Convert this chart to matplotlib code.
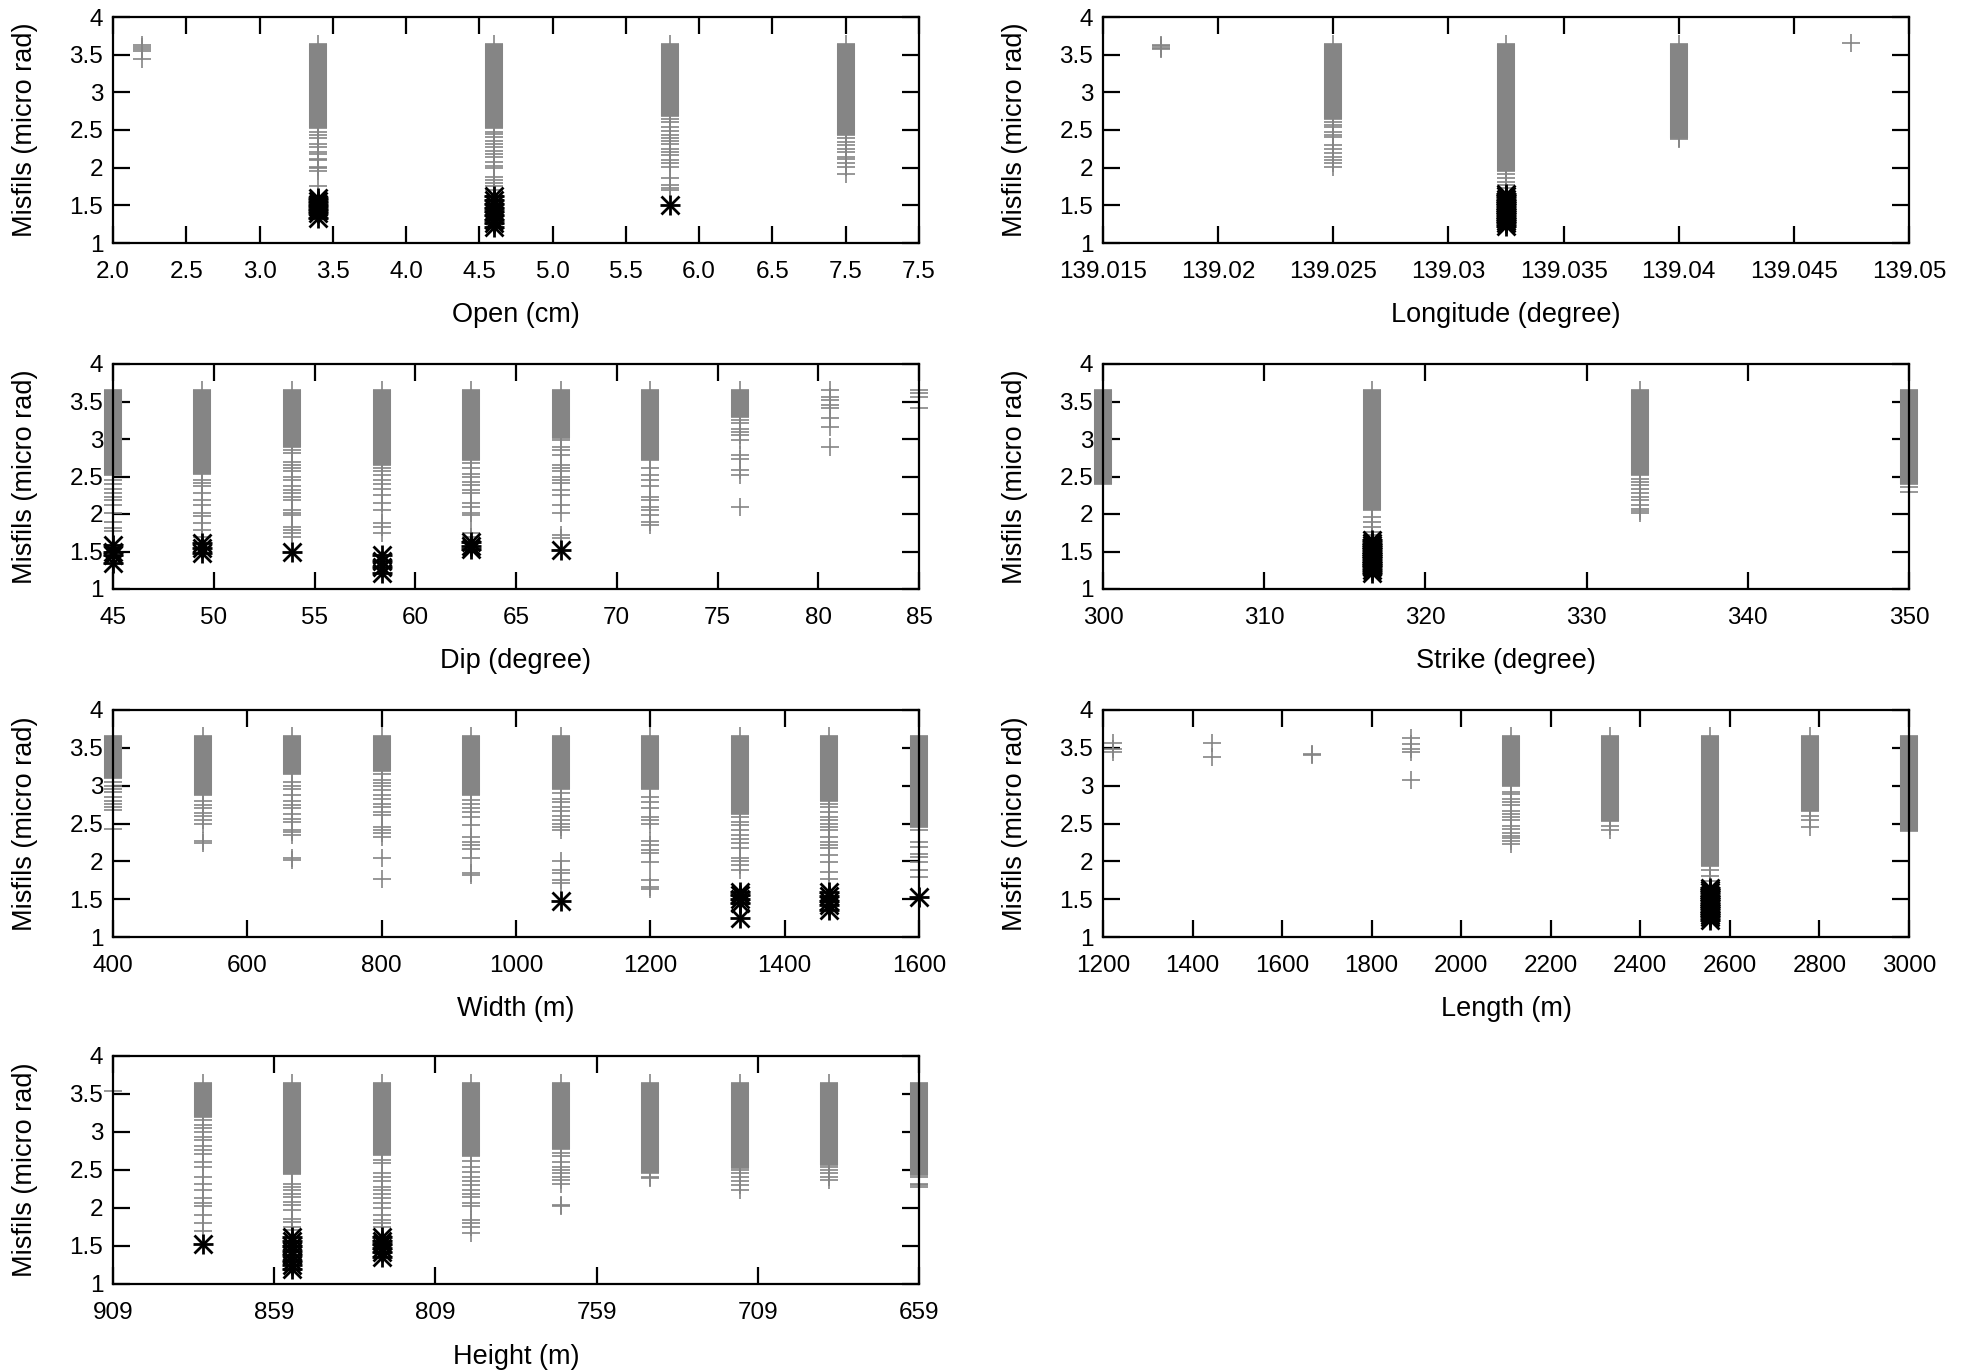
import matplotlib
matplotlib.use("Agg")
import matplotlib.pyplot as plt

plt.rcParams["font.family"] = ["Liberation Sans", "DejaVu Sans"]

GRAY = "#858585"

# ---------------------------------------------------------------
# data: per column x, dense band (lo, hi),
# separate misfit values below the band, and best solutions (black)
# ---------------------------------------------------------------
MISFIT_TICKS = [1, 1.5, 2, 2.5, 3, 3.5, 4]
MISFIT_LABELS = ["1", "1.5", "2", "2.5", "3", "3.5", "4"]

# Open (cm)
open_x = [2.2, 3.4, 4.6, 5.8, 7.0]
open_band = [None, (2.52, 3.64), (2.52, 3.64), (2.69, 3.64), (2.43, 3.64)]
open_sparse = [
    [3.63, 3.60, 3.57, 3.55, 3.44],
    [2.47, 2.44, 2.39, 2.31, 2.27, 2.21, 2.18, 2.12, 2.10, 2.01, 1.99, 1.96, 1.75],
    [2.47, 2.45, 2.41, 2.36, 2.31, 2.28, 2.22, 2.18, 2.14, 2.07, 2.02, 1.99, 1.88, 1.84, 1.79, 1.75, 1.70],
    [2.65, 2.61, 2.54, 2.49, 2.44, 2.39, 2.35, 2.31, 2.25, 2.21, 2.17, 2.10, 2.06, 2.01, 1.86, 1.77, 1.73, 1.70],
    [2.39, 2.34, 2.30, 2.25, 2.21, 2.14, 2.12, 2.06, 2.01, 1.91],
]
open_best = [
    [],
    [1.60, 1.56, 1.52, 1.48, 1.44, 1.40, 1.33],
    [1.62, 1.57, 1.52, 1.47, 1.42, 1.37, 1.31, 1.26, 1.21],
    [1.51],
    [],
]
open_ticks = [2.0, 2.5, 3.0, 3.5, 4.0, 4.5, 5.0, 5.5, 6.0, 6.5, 7.0, 7.5]
open_ticklabels = ["2.0", "2.5", "3.0", "3.5", "4.0", "4.5", "5.0", "5.5", "6.0", "6.5", "7.5", "7.5"]

# Longitude (degree)
lon_x = [139.0175, 139.025, 139.0325, 139.04, 139.0475]
lon_band = [None, (2.65, 3.64), (1.95, 3.64), (2.40, 3.64), None]
lon_sparse = [
    [3.63, 3.61, 3.59, 3.58],
    [2.61, 2.57, 2.54, 2.47, 2.44, 2.41, 2.30, 2.25, 2.19, 2.14, 2.10, 2.06, 2.01],
    [1.92, 1.86, 1.81, 1.77, 1.73, 1.68],
    [2.38],
    [3.65],
]
lon_best = [
    [],
    [],
    [1.65, 1.62, 1.59, 1.56, 1.53, 1.50, 1.47, 1.44, 1.41, 1.38, 1.35, 1.32, 1.29, 1.26, 1.22],
    [],
    [],
]
lon_ticks = [139.015, 139.02, 139.025, 139.03, 139.035, 139.04, 139.045, 139.05]
lon_ticklabels = ["139.015", "139.02", "139.025", "139.03", "139.035", "139.04", "139.045", "139.05"]

# Dip (degree)
dip_x = [45.0, 49.44, 53.89, 58.33, 62.78, 67.22, 71.67, 76.11, 80.56, 85.0]
dip_band = [(2.52, 3.65), (2.54, 3.65), (2.90, 3.65), (2.65, 3.65), (2.72, 3.65),
            (3.01, 3.65), (2.72, 3.65), (3.30, 3.65), None, None]
dip_sparse = [
    [2.46, 2.40, 2.34, 2.28, 2.23, 2.19, 2.12, 2.01, 1.90, 1.81, 1.77],
    [2.46, 2.41, 2.37, 2.28, 2.19, 2.12, 2.02, 1.98, 1.88, 1.79, 1.70],
    [2.85, 2.81, 2.70, 2.66, 2.61, 2.57, 2.50, 2.46, 2.37, 2.32, 2.28, 2.23, 2.19, 2.06, 2.01, 1.99, 1.83, 1.79, 1.75, 1.70],
    [2.61, 2.57, 2.52, 2.46, 2.40, 2.34, 2.26, 2.15, 2.05, 1.88, 1.83, 1.75],
    [2.68, 2.61, 2.54, 2.50, 2.43, 2.39, 2.32, 2.28, 2.15, 2.10, 2.01, 1.99, 1.75, 1.70],
    [2.99, 2.90, 2.85, 2.79, 2.65, 2.61, 2.57, 2.50, 2.46, 2.41, 2.32, 2.26, 2.12, 2.02, 1.72, 1.68],
    [2.61, 2.52, 2.46, 2.37, 2.23, 2.19, 2.10, 2.05, 1.99, 1.90, 1.86],
    [3.25, 3.21, 3.14, 3.10, 3.05, 2.99, 2.79, 2.74, 2.59, 2.52, 2.10],
    [3.65, 3.56, 3.52, 3.45, 3.41, 3.28, 3.16, 2.89],
    [3.65, 3.61, 3.56, 3.41],
]
dip_best = [
    [1.59, 1.50, 1.46, 1.35],
    [1.61, 1.55, 1.48],
    [1.49],
    [1.46, 1.37, 1.30, 1.21],
    [1.63, 1.58, 1.53],
    [1.52],
    [], [], [], [],
]
dip_ticks = [45, 50, 55, 60, 65, 70, 75, 80, 85]

# Strike (degree)
strike_x = [300, 316.67, 333.33, 350]
strike_band = [(2.40, 3.65), (2.05, 3.65), (2.52, 3.65), (2.40, 3.65)]
strike_sparse = [
    [],
    [1.96, 1.89, 1.83, 1.76, 1.72],
    [2.47, 2.43, 2.39, 2.34, 2.28, 2.23, 2.19, 2.12, 2.07, 2.04, 2.01],
    [2.36, 2.30],
]
strike_best = [
    [],
    [1.65, 1.62, 1.59, 1.56, 1.53, 1.50, 1.47, 1.44, 1.41, 1.38, 1.35, 1.32, 1.29, 1.26, 1.22],
    [],
    [],
]
strike_ticks = [300, 310, 320, 330, 340, 350]

# Width (m)
width_x = [400, 533.3, 666.7, 800, 933.3, 1066.7, 1200, 1333.3, 1466.7, 1600]
width_band = [(3.10, 3.65), (2.88, 3.65), (3.15, 3.65), (3.20, 3.65), (2.88, 3.65),
              (2.95, 3.65), (2.95, 3.65), (2.62, 3.65), (2.80, 3.65), (2.46, 3.65)]
width_sparse = [
    [3.05, 3.00, 2.96, 2.92, 2.85, 2.80, 2.76, 2.72, 2.68, 2.43],
    [2.80, 2.75, 2.70, 2.64, 2.60, 2.55, 2.50, 2.27, 2.24],
    [3.05, 3.00, 2.95, 2.88, 2.80, 2.75, 2.70, 2.62, 2.56, 2.52, 2.42, 2.39, 2.35, 2.04, 2.02],
    [3.16, 3.07, 3.03, 2.99, 2.94, 2.88, 2.83, 2.76, 2.72, 2.65, 2.61, 2.46, 2.41, 2.37, 2.32, 2.04, 1.77],
    [2.81, 2.76, 2.71, 2.65, 2.59, 2.48, 2.32, 2.26, 2.21, 2.16, 2.04, 1.84, 1.82],
    [2.90, 2.83, 2.78, 2.72, 2.66, 2.60, 2.55, 2.50, 2.45, 2.42, 2.00, 1.88, 1.85, 1.75, 1.72],
    [2.85, 2.79, 2.70, 2.59, 2.54, 2.49, 2.27, 2.21, 2.15, 2.11, 1.99, 1.75, 1.66, 1.63],
    [2.59, 2.52, 2.48, 2.41, 2.35, 2.30, 2.24, 2.17, 2.04, 2.01, 1.95, 1.88],
    [2.76, 2.72, 2.65, 2.59, 2.54, 2.50, 2.46, 2.41, 2.32, 2.26, 2.21, 2.17, 2.08, 1.99, 1.86, 1.77],
    [2.41, 2.26, 2.19, 2.10, 2.06, 1.99, 1.89, 1.79],
]
width_best = [
    [], [], [], [], [],
    [1.48],
    [],
    [1.60, 1.55, 1.50, 1.45, 1.25],
    [1.60, 1.54, 1.48, 1.42, 1.36],
    [1.53],
]
width_ticks = [400, 600, 800, 1000, 1200, 1400, 1600]

# Length (m)
length_x = [1222.2, 1444.4, 1666.7, 1888.9, 2111.1, 2333.3, 2555.6, 2777.8, 3000]
length_band = [None, None, None, None, (3.00, 3.65), (2.53, 3.65), (1.94, 3.65), (2.67, 3.65), (2.40, 3.65)]
length_sparse = [
    [3.56, 3.49, 3.45],
    [3.56, 3.38],
    [3.42, 3.40],
    [3.63, 3.55, 3.49, 3.45, 3.07],
    [2.92, 2.89, 2.83, 2.78, 2.74, 2.67, 2.63, 2.58, 2.54, 2.47, 2.43, 2.38, 2.34, 2.31, 2.27, 2.23],
    [2.47, 2.42],
    [1.88, 1.81, 1.74],
    [2.60, 2.55, 2.45],
    [],
]
length_best = [
    [], [], [], [], [], [],
    [1.65, 1.62, 1.59, 1.56, 1.53, 1.50, 1.47, 1.44, 1.41, 1.38, 1.35, 1.32, 1.29, 1.26, 1.22],
    [], [],
]
length_ticks = [1200, 1400, 1600, 1800, 2000, 2200, 2400, 2600, 2800, 3000]

# Height (m), axis runs from 909 down to 659
height_x = [909, 881.2, 853.4, 825.7, 797.9, 770.1, 742.3, 714.6, 686.8, 659]
height_band = [None, (3.20, 3.65), (2.45, 3.65), (2.70, 3.65), (2.68, 3.65), (2.78, 3.65),
               (2.46, 3.65), (2.52, 3.65), (2.56, 3.65), (2.44, 3.65)]
height_sparse = [
    [3.54],
    [3.16, 3.09, 3.05, 3.00, 2.94, 2.89, 2.81, 2.76, 2.71, 2.61, 2.54, 2.41, 2.32, 2.24, 2.13, 2.06, 2.02, 1.91, 1.80, 1.70],
    [2.32, 2.28, 2.24, 2.19, 2.15, 2.08, 2.04, 1.97, 1.86, 1.82, 1.75, 1.71],
    [2.63, 2.59, 2.46, 2.41, 2.35, 2.28, 2.24, 2.19, 2.13, 2.06, 2.00, 1.91, 1.84, 1.80, 1.75],
    [2.62, 2.54, 2.48, 2.41, 2.35, 2.30, 2.24, 2.19, 2.15, 2.06, 2.02, 1.84, 1.80, 1.75, 1.67],
    [2.73, 2.68, 2.61, 2.54, 2.50, 2.46, 2.41, 2.37, 2.32, 2.04, 2.02],
    [2.41, 2.39],
    [2.50, 2.46, 2.41, 2.35, 2.30, 2.24],
    [2.54, 2.50, 2.46, 2.41, 2.37],
    [2.41, 2.32, 2.30, 2.28],
]
height_best = [
    [],
    [1.52],
    [1.62, 1.56, 1.50, 1.44, 1.38, 1.30, 1.25, 1.20],
    [1.62, 1.57, 1.52, 1.47, 1.42, 1.35],
    [], [], [], [], [], [],
]
height_ticks = [909, 859, 809, 759, 709, 659]


def draw_panel(ax, xs, bands, sparse, best):
    for x, band, ys, bs in zip(xs, bands, sparse, best):
        if band is not None:
            # densely stacked "+" markers render as a solid gray column
            ax.vlines(x, band[0], band[1], colors=GRAY, lw=13, clip_on=False, zorder=2)
            ax.plot([x, x], band, "+", color=GRAY, ms=13, mew=1.2, clip_on=False, zorder=2)
        if ys:
            ax.plot([x] * len(ys), ys, "+", color=GRAY, ms=13, mew=1.2, clip_on=False, zorder=2)
        if bs:
            ax.plot([x] * len(bs), bs, "+", color="black", ms=14, mew=2.0, clip_on=False, zorder=3)
            ax.plot([x] * len(bs), bs, "x", color="black", ms=13, mew=2.0, clip_on=False, zorder=3)


def style(ax, xlim, ticks, ticklabels, xlabel):
    ax.set_xlim(*xlim)
    ax.set_ylim(1, 4)
    ax.set_xticks(ticks)
    ax.set_xticklabels(ticklabels)
    ax.set_yticks(MISFIT_TICKS)
    ax.set_yticklabels(MISFIT_LABELS)
    ax.tick_params(direction="in", length=12, width=1.6, top=True, right=True,
                   labelsize=17.5, colors="black")
    ax.tick_params(axis="x", pad=13)
    ax.tick_params(axis="y", pad=7)
    for sp in ax.spines.values():
        sp.set_linewidth(1.6)
    ax.set_xlabel(xlabel, fontsize=19.5)
    ax.set_ylabel("Misfils (micro rad)", fontsize=19.5)
    ax.xaxis.set_label_coords(0.5, -0.262)
    ax.yaxis.set_label_coords(-0.093, 0.5)


W, H = 1961, 1370
fig = plt.figure(figsize=(W / 100, H / 100), dpi=100)

cols = [113, 1103]
rows = [(17, 243), (364, 589), (710, 937), (1056, 1284)]
axw = 806


def make_axes(col, row):
    top, bot = rows[row]
    return fig.add_axes([cols[col] / W, 1 - bot / H, axw / W, (bot - top) / H])


ax = make_axes(0, 0)
draw_panel(ax, open_x, open_band, open_sparse, open_best)
style(ax, (2.0, 7.5), open_ticks, open_ticklabels, "Open (cm)")

ax = make_axes(1, 0)
draw_panel(ax, lon_x, lon_band, lon_sparse, lon_best)
style(ax, (139.015, 139.05), lon_ticks, lon_ticklabels, "Longitude (degree)")

ax = make_axes(0, 1)
draw_panel(ax, dip_x, dip_band, dip_sparse, dip_best)
style(ax, (45, 85), dip_ticks, [str(t) for t in dip_ticks], "Dip (degree)")

ax = make_axes(1, 1)
draw_panel(ax, strike_x, strike_band, strike_sparse, strike_best)
style(ax, (300, 350), strike_ticks, [str(t) for t in strike_ticks], "Strike (degree)")

ax = make_axes(0, 2)
draw_panel(ax, width_x, width_band, width_sparse, width_best)
style(ax, (400, 1600), width_ticks, [str(t) for t in width_ticks], "Width (m)")

ax = make_axes(1, 2)
draw_panel(ax, length_x, length_band, length_sparse, length_best)
style(ax, (1200, 3000), length_ticks, [str(t) for t in length_ticks], "Length (m)")

ax = make_axes(0, 3)
draw_panel(ax, height_x, height_band, height_sparse, height_best)
style(ax, (909, 659), height_ticks, [str(t) for t in height_ticks], "Height (m)")

fig.savefig("out.png", dpi=100)
